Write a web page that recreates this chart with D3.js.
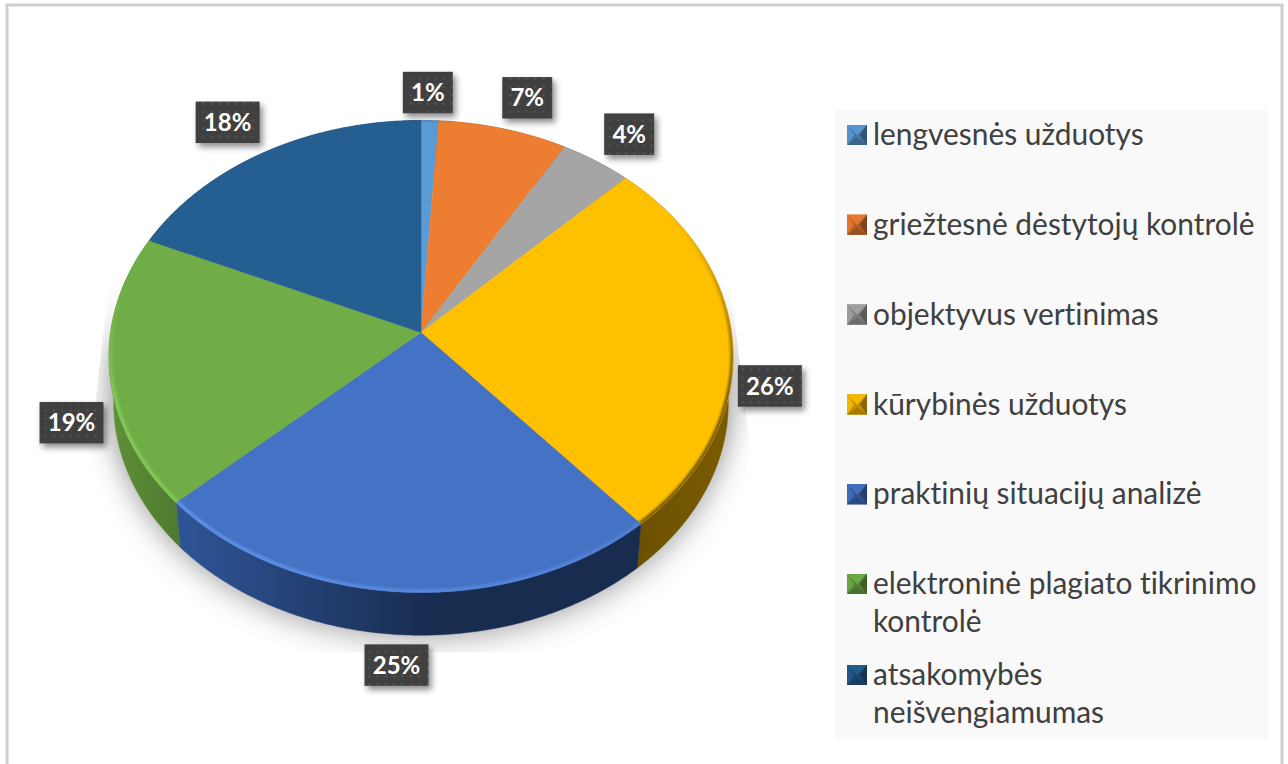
<!DOCTYPE html>
<html><head><meta charset="utf-8">
<script src="https://cdn.jsdelivr.net/npm/d3@7/dist/d3.min.js"></script>
<style>html,body{margin:0;padding:0;background:#fff;overflow:hidden}svg{display:block}
text{font-family:Lato,"Open Sans",sans-serif;font-variant-ligatures:none}</style></head><body>
<svg id="c" width="1288" height="764"></svg>
<script>
const categories=[["lengvesnės užduotys"],["griežtesnė dėstytojų kontrolė"],["objektyvus vertinimas"],["kūrybinės užduotys"],["praktinių situacijų analizė"],["elektroninė plagiato tikrinimo","kontrolė"],["atsakomybės","neišvengiamumas"]];
const values=[1,7.4,4.1,26.2,24.5,18.6,18.3];
const valueLabels=["1%","7%","4%","26%","25%","19%","18%"];
const topColors=["#5b9bd5","#ed7d31","#a5a5a5","#ffc000","#4472c4","#70ad47","#255e91"];
const wallFrom=["#3a6d9a","#9c5220","#6d6d6d","#7a5c00","#2f5597","#5f9238","#1c4669"];
const wallTo=["#3a6d9a","#9c5220","#6d6d6d","#6a4f00","#182c50","#4f7a2f","#1c4669"];
const rimFrom=["#5b9bd5","#ed7d31","#a5a5a5","#ffc000","#5f90e6","#70ad47","#255e91"];
const rimTo=["#5b9bd5","#ed7d31","#a5a5a5","#7a5c00","#4f7fd4","#80c857","#255e91"];
const labelOffsets=[[-2,-28],[24,-31],[33,-27],[37.5,45],[-5,73],[-38,52],[-38,-29.5]];

const svg=d3.select("#c");
const defs=svg.append("defs");
const cx=421,cy=332.5,R=310.4,kR=233.6,p=0.1017,lowScale=0.985,lowDrop=47;
const project=(a,f=1)=>{const u=Math.sin(a)*f,v=Math.cos(a)*f,s=1/(1+p*v);return [cx+R*u*s,cy-kR*v*s];};
const lower=a=>{const q=project(a,lowScale);return [q[0],q[1]+lowDrop];};
const arcs=d3.pie().sort(null).value(d=>d)(values);
const sample=(a0,a1)=>d3.range(0,61).map(i=>a0+(a1-a0)*i/60);
const fine=(a0,a1)=>d3.range(0,241).map(i=>a0+(a1-a0)*i/240);
const line=d3.line();
const TAU=Math.PI*2;

// frame
svg.append("rect").attr("width",1288).attr("height",764).attr("fill","#fff");
svg.append("rect").attr("x",7).attr("y",5).attr("width",1275).attr("height",790).attr("fill","none").attr("stroke","#d0d0d0").attr("stroke-width",3);

// filters
const blur=defs.append("filter").attr("id","sh").attr("x","-20%").attr("y","-20%").attr("width","140%").attr("height","140%");
blur.append("feGaussianBlur").attr("stdDeviation",15);
const soft=defs.append("filter").attr("id","soft").attr("x","-5%").attr("y","-5%").attr("width","110%").attr("height","110%");
soft.append("feGaussianBlur").attr("stdDeviation",0.9);
const ds=defs.append("filter").attr("id","ds").attr("x","-20%").attr("y","-20%").attr("width","150%").attr("height","150%");
ds.append("feDropShadow").attr("dx",3).attr("dy",4).attr("stdDeviation",3).attr("flood-color","#000").attr("flood-opacity",.45);
const mk=defs.append("filter").attr("id","mk").attr("x","0").attr("y","0").attr("width","100%").attr("height","100%");
mk.append("feGaussianBlur").attr("stdDeviation",0.7);
const pat=defs.append("pattern").attr("id","dots").attr("width",8.3).attr("height",8.3).attr("patternUnits","userSpaceOnUse");
pat.append("rect").attr("width",8.3).attr("height",8.3).attr("fill","#404040");
pat.append("circle").attr("cx",4).attr("cy",4).attr("r",1).attr("fill","#5c5c5c");
defs.append("clipPath").attr("id","shClip").append("path").attr("d",line([[116,260],[726,260],[736,330],[754,480],[754,652],[87,652],[87,480],[108,290]])+"Z");
defs.append("clipPath").attr("id","topClip").append("path").attr("d",line(fine(0,TAU).map(a=>project(a)))+"Z");
const fade=defs.append("linearGradient").attr("id","fade").attr("gradientUnits","userSpaceOnUse").attr("x1",0).attr("x2",0).attr("y1",270).attr("y2",360);
fade.append("stop").attr("offset",0).attr("stop-color","#000");
fade.append("stop").attr("offset",1).attr("stop-color","#fff");
defs.append("mask").attr("id","shMask").attr("maskUnits","userSpaceOnUse").attr("x",0).attr("y",0).attr("width",1288).attr("height",764)
  .append("rect").attr("width",1288).attr("height",764).attr("fill","url(#fade)");

// shadow
const shadow=svg.append("g").attr("clip-path","url(#shClip)").attr("mask","url(#shMask)");
shadow.append("path").attr("d",line(sample(0,TAU).map(lower))+"Z")
  .attr("transform","translate(0,4)").attr("fill","#707070").attr("opacity",.62).attr("filter","url(#sh)");
shadow.append("path").attr("d",line([...sample(0,TAU).map(a=>project(a))])+"Z").attr("transform","translate(0,14)")
  .attr("fill","#8a8a8a").attr("opacity",.55).attr("filter","url(#sh)");

// walls
arcs.forEach((d,i)=>{
  const id="w"+i, xs=sample(d.startAngle,d.endAngle).map(a=>project(a)[0]);
  const g=defs.append("linearGradient").attr("id",id).attr("gradientUnits","userSpaceOnUse")
    .attr("x1",d3.min(xs)).attr("x2",d3.max(xs)).attr("y1",0).attr("y2",0);
  const leftFirst=i>=4;
  g.append("stop").attr("offset",0).attr("stop-color",leftFirst?wallFrom[i]:wallTo[i]);
  g.append("stop").attr("offset",i===4?.55:1).attr("stop-color",leftFirst?wallTo[i]:wallFrom[i]);
  const pts=[...fine(d.startAngle,d.endAngle).map(a=>project(a)),...fine(d.endAngle,d.startAngle).map(lower)];
  svg.append("path").attr("d",line(pts)+"Z").attr("fill",`url(#${id})`).attr("stroke",`url(#${id})`).attr("stroke-width",.5);
});

// tops
arcs.forEach((d,i)=>{
  const pts=[[cx,cy],...fine(d.startAngle,d.endAngle).map(a=>project(a))];
  svg.append("path").attr("d",line(pts)+"Z").attr("fill",topColors[i]).attr("stroke",topColors[i]).attr("stroke-width",.4);
});

// rim bevel on the near edge, kept inside the top face
const rims=svg.append("g").attr("clip-path","url(#topClip)");
arcs.forEach((d,i)=>{
  if(i<3||i===6) return;
  const id="r"+i, pts=fine(d.startAngle,d.endAngle).map(a=>project(a,0.997));
  const g=defs.append("linearGradient").attr("id",id).attr("gradientUnits","userSpaceOnUse");
  if(i===3){ g.attr("x1",0).attr("x2",0).attr("y1",220).attr("y2",400); }
  else if(i===5){ g.attr("x1",0).attr("x2",0).attr("y1",290).attr("y2",400); }
  else { g.attr("x1",d3.min(pts,q=>q[0])).attr("x2",d3.max(pts,q=>q[0])).attr("y1",0).attr("y2",0); }
  g.append("stop").attr("offset",0).attr("stop-color",rimFrom[i]);
  g.append("stop").attr("offset",1).attr("stop-color",rimTo[i]);
  rims.append("path").attr("d",line(pts))
    .attr("fill","none").attr("stroke",`url(#${id})`).attr("stroke-width",i===3?4:5).attr("filter","url(#soft)");
});

// data labels
arcs.forEach((d,i)=>{
  const q=project((d.startAngle+d.endAngle)/2), t=labelOffsets[i];
  const x=q[0]+t[0], y=q[1]+t[1], w=valueLabels[i].length>2?64:50, h=41.5;
  svg.append("rect").attr("x",x-w/2).attr("y",y-h/2).attr("width",w).attr("height",h).attr("fill","url(#dots)").attr("filter","url(#ds)");
  svg.append("text").attr("x",x).attr("y",y).attr("dy","0.36em").attr("text-anchor","middle")
    .attr("font-size",24).attr("font-weight",700).attr("fill","#fff").text(valueLabels[i]);
});

// legend
svg.append("rect").attr("x",835).attr("y",110).attr("width",433).attr("height",629).attr("fill","#f9f9f9");
const legendY=d3.scalePoint().domain(d3.range(6)).range([135,584]);
const legendRows=[...d3.range(6).map(legendY),675];
categories.forEach((lines,i)=>{
  const y=legendRows[i], c=d3.color(topColors[i]), m=20, x=847, t=y-m/2, b=t+m, r=x+m, ins=7;
  const mark=svg.append("g").attr("filter","url(#mk)");
  const tri=(pts,col)=>mark.append("path").attr("d",line(pts)+"Z").attr("fill",col).attr("stroke",col).attr("stroke-width",.4);
  mark.append("rect").attr("x",x).attr("y",t).attr("width",m).attr("height",m).attr("fill",c.darker(.8));
  tri([[x,t],[r,t],[x+m/2,t+ins+3]],c.darker(.1));
  tri([[x,b],[r,b],[x+m/2,b-ins]],c.darker(1.2));
  tri([[x,t],[x,b],[x+ins,y]],c.darker(.15));
  tri([[r,t],[r,b],[r-ins,y]],c.darker(1.7));
  lines.forEach((s,j)=>svg.append("text").attr("x",873).attr("y",y+(j*37.5)).attr("dy","0.34em")
    .attr("font-size",29.9).attr("fill","#404040").text(s));
});
</script></body></html>
